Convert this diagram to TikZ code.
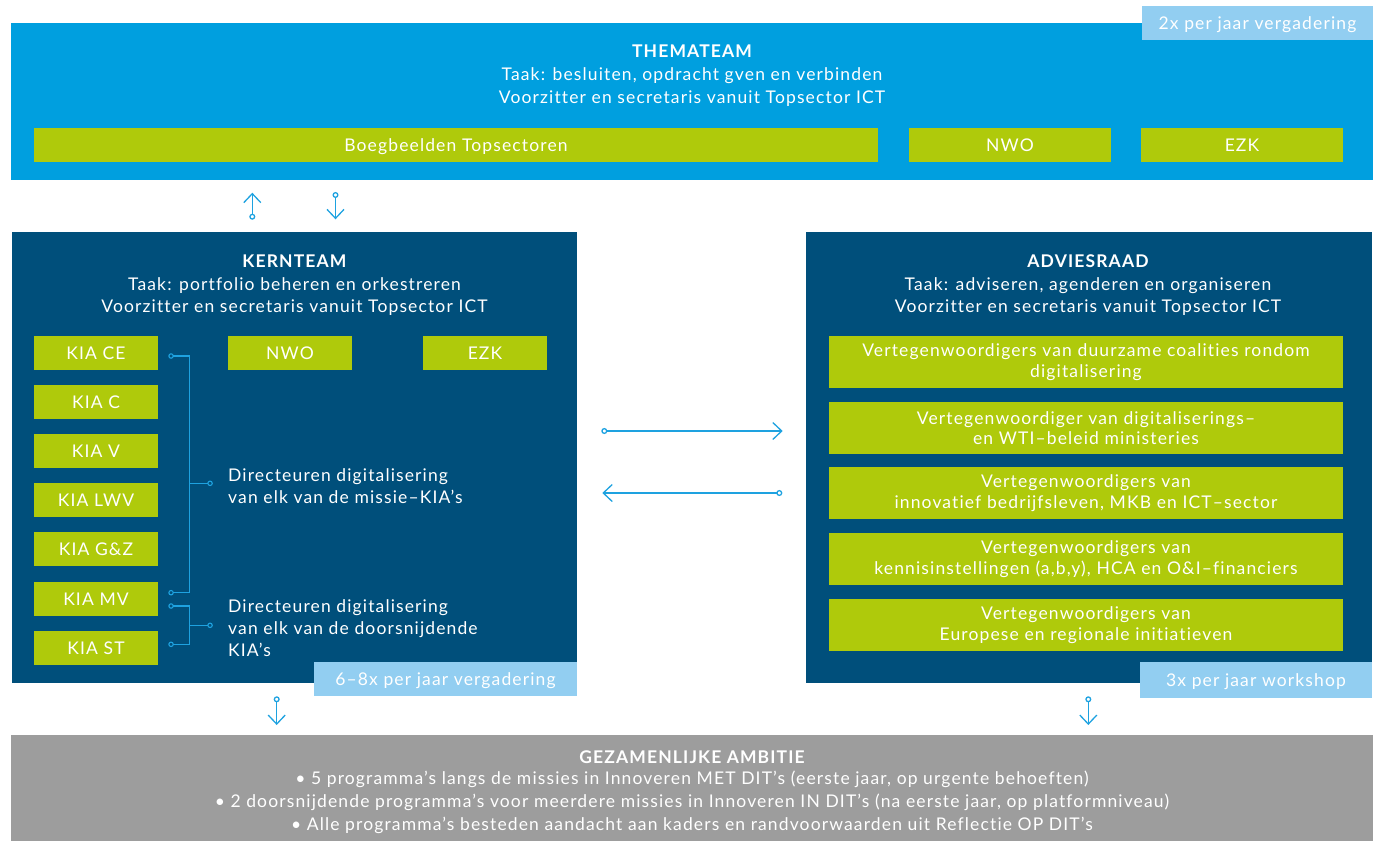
\documentclass[tikz,border=0pt]{standalone}
\usepackage{fontspec}
\setmainfont{Lato}[LetterSpace=6.5, Ligatures=CommonOff]
\usetikzlibrary{arrows.meta}
\definecolor{themablue}{HTML}{009FDF}
\definecolor{lightblue}{HTML}{92CEF1}
\definecolor{limegreen}{HTML}{AFCA0B}
\definecolor{darkblue}{HTML}{004F7B}
\definecolor{ambgray}{HTML}{9D9D9D}
\definecolor{linkblue}{HTML}{1EA2E0}
\tikzset{dotend/.tip={Circle[open,length=5.5pt,width=5.5pt]}}
\begin{document}
\begin{tikzpicture}[x=1pt,y=-1pt,
  every node/.style={text=white, font=\fontsize{17.5}{22.5}\selectfont},
  panel/.style={anchor=north west, inner sep=0pt, outer sep=0pt},
  greenbox/.style={panel, fill=limegreen, align=center},
  onebox/.style={greenbox, text height=12.6pt, text depth=0pt},
  twobox/.style={greenbox, minimum width=514, minimum height=52, font=\fontsize{17.5}{20.5}\selectfont},
  kiabox/.style={onebox, minimum width=124, minimum height=34},
  tag/.style={panel, fill=lightblue, text height=12.6pt, text depth=0pt},
  ttl/.style={anchor=base, font=\bfseries\fontsize{17.5}{22.5}\selectfont},
  txt/.style={anchor=base},
  conn/.style={draw=linkblue, line width=1.3pt, {Circle[open,length=6pt,width=6pt]}-{Straight Barb[length=9pt,width=17pt]}},
  brk/.style={draw=linkblue, line width=1.1pt},
]
\useasboundingbox (0,0) rectangle (1378,841);

% THEMATEAM
\node[panel, fill=themablue, minimum width=1362, minimum height=157] (thema) at (11,23) {};
\node[ttl] (thematitle) at (692,57) {THEMATEAM};
\node[txt] (thema1) at (692,80) {Taak: besluiten, opdracht gven en verbinden};
\node[txt] (thema2) at (692,103) {Voorzitter en secretaris vanuit Topsector ICT};
\node[onebox, minimum width=844, minimum height=34] (boeg) at (34,128) {Boegbeelden Topsectoren};
\node[onebox, minimum width=202, minimum height=34] (nwo1) at (909,128) {NWO};
\node[onebox, minimum width=202, minimum height=34] (ezk1) at (1141,128) {EZK};
\node[tag, minimum width=231, minimum height=34] (tag1) at (1142,6) {2x per jaar vergadering};

% KERNTEAM
\node[panel, fill=darkblue, minimum width=565, minimum height=451] (kern) at (12,232) {};
\node[ttl] (kerntitle) at (294.5,267) {KERNTEAM};
\node[txt] (kern1) at (294.5,290) {Taak: portfolio beheren en orkestreren};
\node[txt] (kern2) at (294.5,312) {Voorzitter en secretaris vanuit Topsector ICT};
\node[kiabox] (kiace) at (34,336) {KIA CE};
\node[kiabox] (kiac) at (34,385) {KIA C};
\node[kiabox] (kiav) at (34,434) {KIA V};
\node[kiabox] (kialwv) at (34,483) {KIA LWV};
\node[kiabox] (kiagz) at (34,532) {KIA G\&Z};
\node[kiabox] (kiamv) at (34,582) {KIA MV};
\node[kiabox] (kiast) at (34,631) {KIA ST};
\node[kiabox] (nwo2) at (228,336) {NWO};
\node[kiabox] (ezk2) at (423,336) {EZK};
\node[anchor=base west, inner xsep=0pt] (dir1) at (228,481) {Directeuren digitalisering};
\node[anchor=base west, inner xsep=0pt] (dir1b) at (228,503) {van elk van de missie–KIA’s};
\node[anchor=base west, inner xsep=0pt] (dir2) at (228,612) {Directeuren digitalisering};
\node[anchor=base west, inner xsep=0pt] (dir2b) at (228,634) {van elk van de doorsnijdende};
\node[anchor=base west, inner xsep=0pt] (dir2c) at (228,656) {KIA’s};
\node[tag, minimum width=263, minimum height=34] (tag2) at (314,662) {6–8x per jaar vergadering};

% brackets
\coordinate (bA1) at (168.3,356);
\coordinate (bA2) at (168.3,592.7);
\coordinate (bAv) at (189.5,483.3);
\coordinate (bAe) at (212.8,483.3);
\coordinate (bB1) at (168.3,606);
\coordinate (bB2) at (168.3,644.3);
\coordinate (bBv) at (189.5,625.3);
\coordinate (bBe) at (212.8,625.3);
\draw[brk, dotend-dotend] (bA1) -| (bAv) |- (bA2);
\draw[brk, -dotend] (bAv) -- (bAe);
\draw[brk, dotend-dotend] (bB1) -| (bBv) |- (bB2);
\draw[brk, -dotend] (bBv) -- (bBe);

% ADVIESRAAD
\node[panel, fill=darkblue, minimum width=566, minimum height=451] (advies) at (806,232) {};
\node[ttl] (adviestitle) at (1088,267) {ADVIESRAAD};
\node[txt] (advies1) at (1088,290) {Taak: adviseren, agenderen en organiseren};
\node[txt] (advies2) at (1088,312) {Voorzitter en secretaris vanuit Topsector ICT};
\node[twobox] (a1) at (829,336) {Vertegenwoordigers van duurzame coalities rondom\\digitalisering};
\node[twobox] (a2) at (829,402) {Vertegenwoordiger van digitaliserings–\\en WTI–beleid ministeries};
\node[twobox] (a3) at (829,467) {Vertegenwoordigers van\\innovatief bedrijfsleven, MKB en ICT–sector};
\node[twobox] (a4) at (829,533) {Vertegenwoordigers van\\kennisinstellingen (a,b,y), HCA en O\&I–financiers};
\node[twobox] (a5) at (829,599) {Vertegenwoordigers van\\Europese en regionale initiatieven};
\node[tag, minimum width=232, minimum height=36] (tag3) at (1140,662) {3x per jaar workshop};

% GEZAMENLIJKE AMBITIE
\node[panel, fill=ambgray, minimum width=1362, minimum height=106] (amb) at (11,735) {};
\node[ttl] (ambtitle) at (692,763) {GEZAMENLIJKE AMBITIE};
\node[txt] (amb1) at (692,784) {• 5 programma’s langs de missies in Innoveren MET DIT’s (eerste jaar, op urgente behoeften)};
\node[txt] (amb2) at (692,807) {• 2 doorsnijdende programma’s voor meerdere missies in Innoveren IN DIT’s (na eerste jaar, op platformniveau)};
\node[txt] (amb3) at (692,830) {• Alle programma’s besteden aandacht aan kaders en randvoorwaarden uit Reflectie OP DIT’s};

% arrows
\coordinate (upS) at (252.3,219.7);
\coordinate (upE) at (252.3,192.7);
\coordinate (dnS) at (335.5,192);
\coordinate (dnE) at (335.5,219.3);
\draw[conn] (upS) -- (upE);
\draw[conn] (dnS) -- (dnE);
\coordinate (hrS) at (601.3,431);
\coordinate (hrE) at (782.7,431);
\coordinate (hlS) at (782.3,493);
\coordinate (hlE) at (602.3,493);
\draw[conn] (hrS) -- (hrE);
\draw[conn] (hlS) -- (hlE);
\coordinate (d1S) at (276.7,696.3);
\coordinate (d1E) at (276.7,725);
\coordinate (d2S) at (1088.3,696.3);
\coordinate (d2E) at (1088.3,725);
\draw[conn] (d1S) -- (d1E);
\draw[conn] (d2S) -- (d2E);
\end{tikzpicture}
\end{document}
